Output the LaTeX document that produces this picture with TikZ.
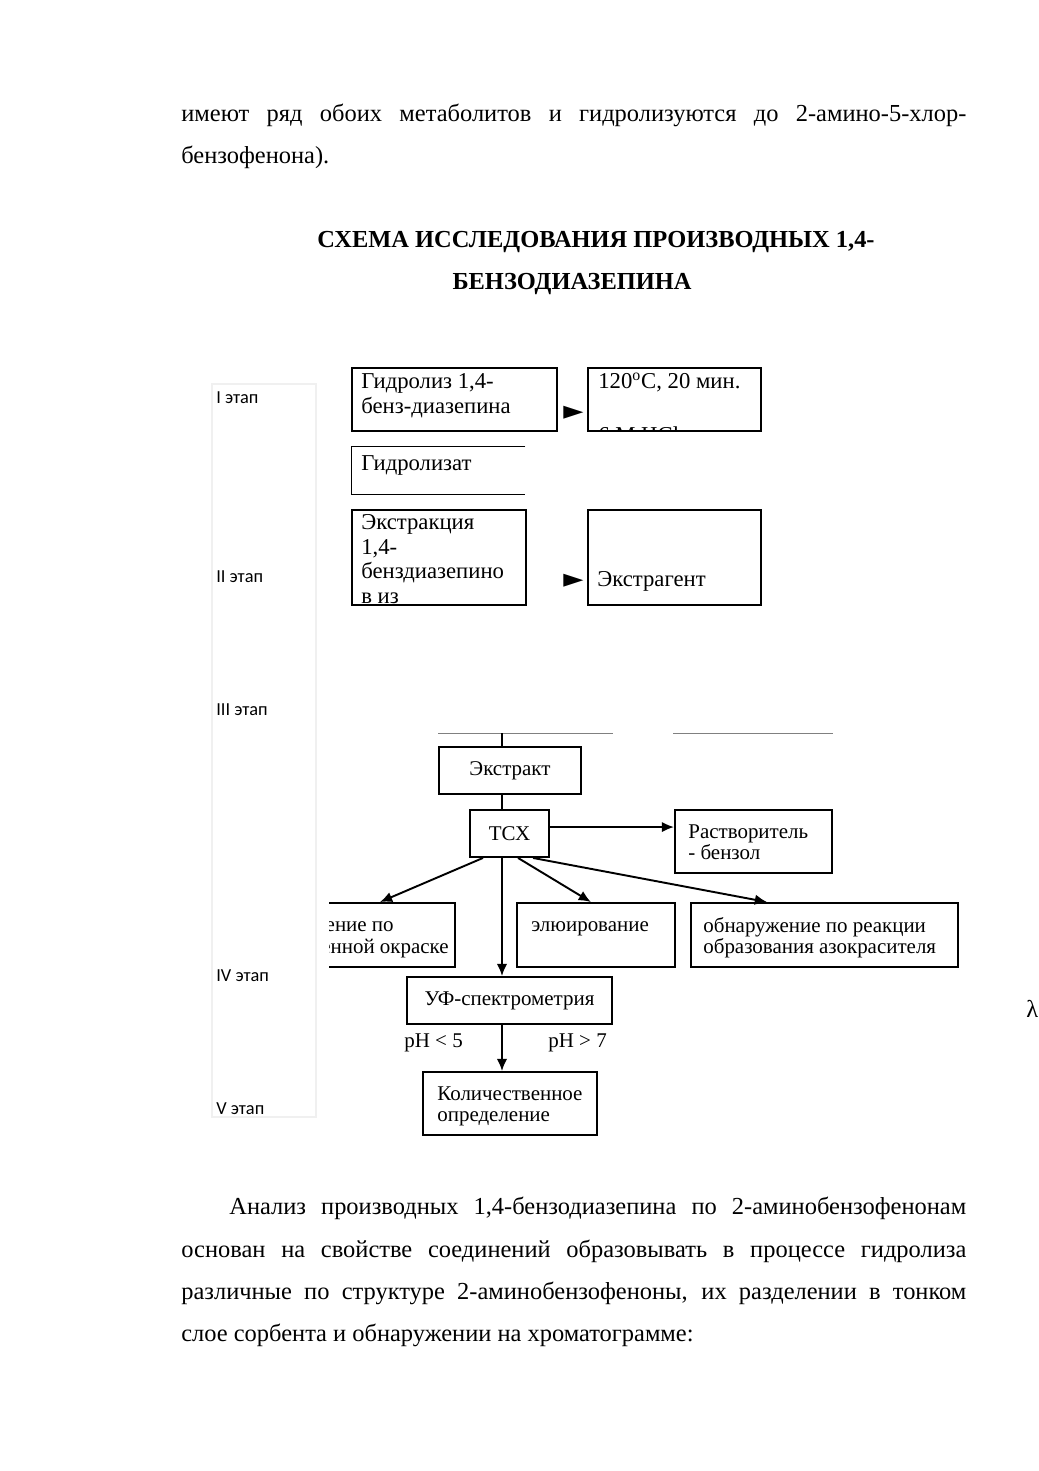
\documentclass[tikz,border=0pt]{standalone}
\usepackage{fontspec}
\setmainfont{Liberation Serif}
\newfontfamily\stagefont{Carlito}
\newfontfamily\trifont{DejaVu Sans}
\usetikzlibrary{arrows.meta}
\def\pxu{0.5727pt}
\tikzset{
  body/.style={anchor=base west,inner sep=0pt,font=\fontsize{14}{24}\selectfont},
  ttl/.style={anchor=base,inner sep=0pt,font=\bfseries\fontsize{14}{24}\selectfont},
  stage/.style={anchor=base west,inner sep=0pt,font=\stagefont\fontsize{10.5}{12}\selectfont},
  uptxt/.style={anchor=base west,inner sep=0pt,align=left,font=\fontsize{13}{14}\selectfont},
  lotxt/.style={anchor=base west,inner sep=0pt,align=left,font=\fontsize{12}{12}\selectfont},
  sized/.style 2 args={minimum width=#1*\pxu,minimum height=#2*\pxu},
  thinbox/.style={draw,line width=0.6pt,inner sep=0pt},
  flowbox/.style={draw,line width=1.1pt,inner sep=0pt,font=\fontsize{12}{12}\selectfont},
  flowarr/.style={line width=1.1pt,-{Latex[length=7pt,width=6pt]}},
  tri/.style={anchor=base west,inner sep=0pt,font=\trifont\fontsize{15}{16}\selectfont},
}
\begin{document}
\begin{tikzpicture}[x=\pxu,y=-\pxu]
  \useasboundingbox (0,0) rectangle (1039,1471);
  \fill[white] (0,0) rectangle (1039,1471);

  % text above the scheme
  \node[body] (p1a) at (181,122) {\makebox[449.6pt][s]{имеют ряд обоих метаболитов и гидролизуются до 2-амино-5-хлор-}};
  \node[body] (p1b) at (181,164) {бензофенона).};

  % title
  \node[ttl] (t1) at (596,248) {СХЕМА ИССЛЕДОВАНИЯ ПРОИЗВОДНЫХ 1,4-};
  \node[ttl] (t2) at (572,290) {БЕНЗОДИАЗЕПИНА};

  % stage column
  \draw[black!6,line width=0.8pt] (212,384) rectangle (316,1117);
  \foreach \n/\y/\lab in {s1/404/I, s2/582/II, s3/715/III, s4/981/IV, s5/1114/V}{
    \node[stage] (\n) at (216,\y) {\lab\ этап};
  }

  % stages I-II: hydrolysis and extraction (base = last line)
  \node[thinbox,sized={205}{63}] (hyd) at (454.5,399.5) {};
  \node[uptxt] (hydtx) at (361,413) {Гидролиз 1,4-\\бенз-диазепина};
  \node[tri] (tri1) at (563,419) {►};
  \node[thinbox,sized={173}{63}] (cond) at (674.5,399.5) {};
  \node[uptxt] (condtx) at (598,388) {120\textsuperscript{o}С, 20 мин.};
  \begin{scope}
    \clip (cond.south west) rectangle (cond.north east);
    \node[uptxt] (acid) at (598,442) {6 M HCl};
  \end{scope}
  \node[sized={173}{47},inner sep=0pt] (hydz) at (438.5,470.5) {};
  \draw[line width=0.6pt] (hydz.north east) -- (hydz.north west) -- (hydz.south west) -- (hydz.south east);
  \node[uptxt] (hydztx) at (361,470) {Гидролизат};
  \node[thinbox,sized={174}{95}] (ext) at (439,557.5) {};
  \begin{scope}
    \clip (ext.south west) rectangle (ext.north east);
    \node[uptxt] (exttx) at (361,603) {Экстракция\\1,4-\\бенздиазепино\\в из};
  \end{scope}
  \node[tri] (tri2) at (563,587) {►};
  \node[thinbox,sized={173}{95}] (agent) at (674.5,557.5) {};
  \node[uptxt] (agenttx) at (597,586) {Экстрагент};

  % stages III-V: chromatography and measurement
  \draw[gray,line width=0.5pt] (438,733) -- (613,733);
  \draw[gray,line width=0.5pt] (673,733) -- (833,733);
  \coordinate (spine) at (502,733);
  \node[flowbox,sized={142}{47}] (extr) at (510,770.5) {Экстракт};
  \node[flowbox,sized={79}{47}] (tlc) at (509.5,833.5) {ТСХ};
  \node[flowbox,sized={157}{63}] (solv) at (753.5,841.5) {};
  \node[lotxt] (solvtx) at (688,859) {Растворитель\\- бензол};
  \begin{scope}
    \clip (329,890) rectangle (700,980);
    \node[flowbox,sized={205}{64}] (own) at (352.5,935) {};
    \node[lotxt,anchor=base east] (owntx1) at (394,931) {обнаружение по};
    \node[lotxt,anchor=base east] (owntx2) at (449,953) {собственной окраске};
  \end{scope}
  \node[flowbox,sized={158}{64}] (elu) at (596,935) {};
  \node[lotxt] (elutx) at (531,931) {элюирование};
  \node[flowbox,sized={267}{64}] (azo) at (824.5,935) {};
  \node[lotxt] (azotx) at (703,953) {обнаружение по реакции\\образования азокрасителя};
  \node[flowbox,sized={205}{47}] (uv) at (509.5,1000.5) {УФ-спектрометрия};
  \node[lotxt] (ph1) at (404,1047) {pH < 5};
  \node[lotxt] (ph2) at (548,1047) {pH > 7};
  \node[flowbox,sized={174}{63}] (quant) at (510,1103.5) {};
  \node[lotxt] (quanttx) at (437,1121) {Количественное\\определение};
  \node[body] (lam) at (1026,1017) {λ};

  \draw[line width=1.1pt] (spine) -- (spine |- extr.north);
  \draw[line width=1.1pt] (spine |- extr.south) -- (spine |- tlc.north);
  \draw[flowarr] ([yshift=3.7pt]tlc.east) -- ([yshift=3.7pt]tlc.east -| solv.west);
  \draw[flowarr] ([xshift=-15.2pt]tlc.south) -- ([xshift=15.7pt]own.north);
  \draw[flowarr] (spine |- tlc.south) -- (spine |- uv.north);
  \draw[flowarr] ([xshift=4.9pt]tlc.south) -- ([xshift=-2.9pt]elu.north);
  \draw[flowarr] ([xshift=13.5pt]tlc.south) -- ([xshift=-32.9pt]azo.north);
  \draw[flowarr] (spine |- uv.south) -- (spine |- quant.north);

  % text below the scheme
  \node[body] (p2a) at (229,1214) {\makebox[422pt][s]{Анализ производных 1,4-бензодиазепина по 2-аминобензофенонам}};
  \node[body] (p2b) at (181,1257) {\makebox[449.6pt][s]{основан на свойстве соединений образовывать в процессе гидролиза}};
  \node[body] (p2c) at (181,1299) {\makebox[449.6pt][s]{различные по структуре 2-аминобензофеноны, их разделении в тонком}};
  \node[body] (p2d) at (181,1341) {слое сорбента и обнаружении на хроматограмме:};
\end{tikzpicture}
\end{document}
